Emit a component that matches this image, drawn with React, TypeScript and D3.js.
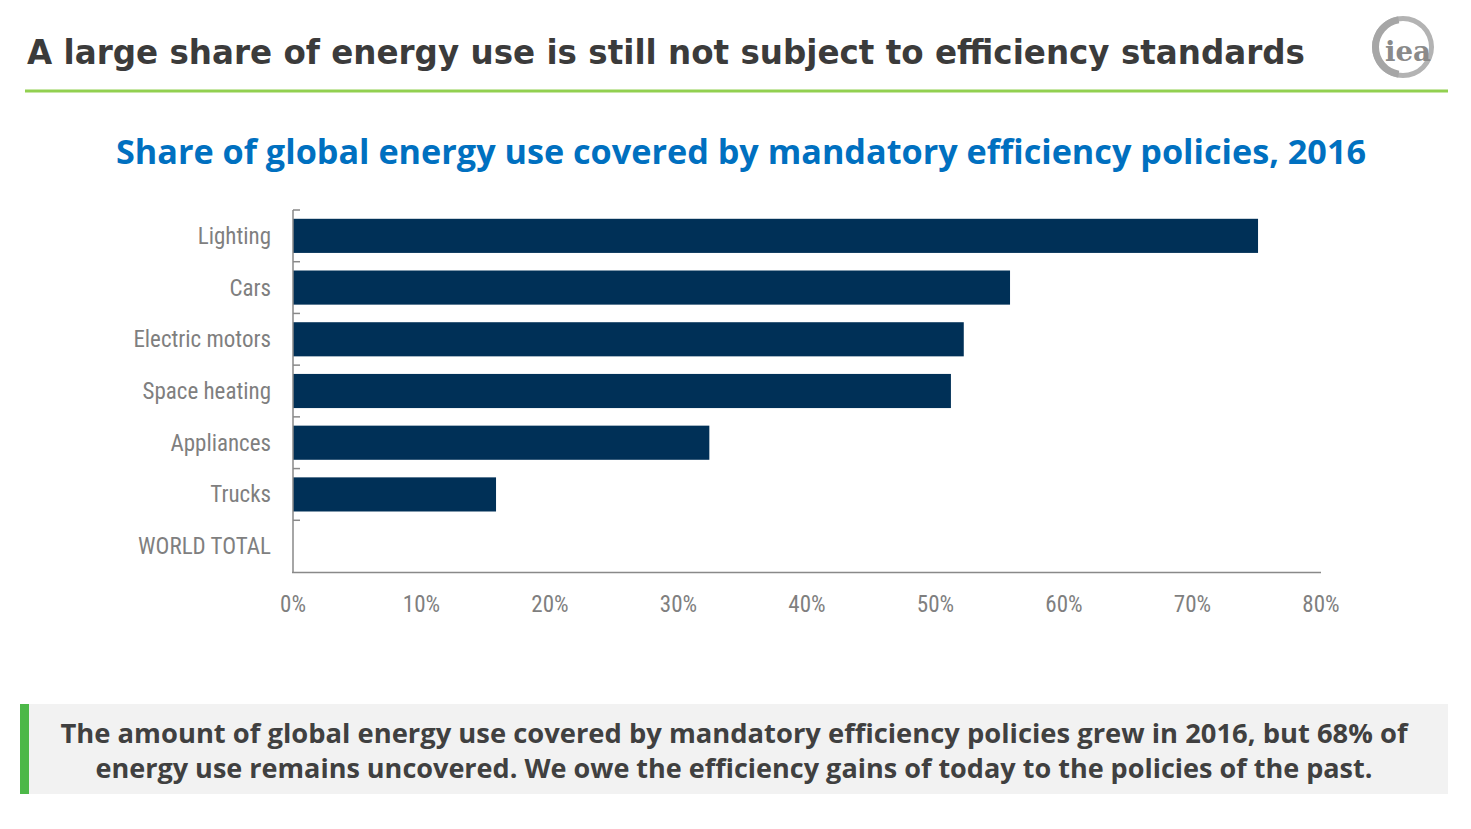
import React from "react";
import * as d3 from "d3";

const categories = ["Lighting", "Cars", "Electric motors", "Space heating", "Appliances", "Trucks", "WORLD TOTAL"];
const shares: (number | null)[] = [75.1, 55.8, 52.2, 51.2, 32.4, 15.8, null];
const xTicks = [0, 10, 20, 30, 40, 50, 60, 70, 80];

const headline = "A large share of energy use is still not subject to efficiency standards";
const chartTitle = "Share of global energy use covered by mandatory efficiency policies, 2016";
const noteLines = [
  "The amount of global energy use covered by mandatory efficiency policies grew in 2016, but 68% of",
  "energy use remains uncovered. We owe the efficiency gains of today to the policies of the past.",
];

export default function App() {
  const W = 1471, H = 829;
  const x = d3.scaleLinear().domain([0, 80]).range([293, 1321]);
  const y = d3.scaleBand<string>().domain(categories).range([210, 572]).paddingInner(0.34).paddingOuter(0.17);
  const step = y.step();
  const boundaries = categories.map((_, i) => 210 + i * step);
  const labelFont = "'Liberation Sans Narrow', 'Arial Narrow', 'Roboto Condensed', sans-serif";
  const gray = "#7f7f7f";
  const axisColor = "#898989";

  // logo arc (thicker crescent on left)
  const ringArc = d3.arc()({ innerRadius: 26, outerRadius: 31, startAngle: 0, endAngle: 2 * Math.PI }) as string;
  const crescent = d3.arc()({ innerRadius: 24, outerRadius: 31, startAngle: Math.PI * 1.05, endAngle: Math.PI * 1.95 }) as string;

  return (
    <svg width={W} height={H} style={{ position: "absolute", left: 0, top: 0, background: "#fff" }}>
      {/* headline */}
      <text x={27} y={64} fontFamily="'DejaVu Sans', sans-serif" fontWeight="bold" fontSize={34} fill="#3b3b3b"
        textLength={1278} lengthAdjust="spacingAndGlyphs">{headline}</text>
      <line x1={25} x2={1448} y1={91} y2={91} stroke="#92d050" strokeWidth={3} />

      {/* logo */}
      <g transform="translate(1403,47)">
        <path d={ringArc} fill="#b3b3b3" />
        <path d={crescent} fill="#a6a6a6" />
        <text x={5} y={14} textAnchor="middle" fontFamily="'DejaVu Serif', serif" fontWeight="bold" fontSize={27} fill="#8a8a8a"
          textLength={46} lengthAdjust="spacingAndGlyphs">iea</text>
      </g>

      {/* chart title */}
      <text x={741} y={164} textAnchor="middle" fontFamily="'Open Sans', sans-serif" fontWeight="bold" fontSize={34} fill="#0070c0"
        textLength={1250} lengthAdjust="spacingAndGlyphs">{chartTitle}</text>

      {/* bars */}
      {categories.map((c, i) => {
        const v = shares[i];
        if (v == null) return null;
        return <rect key={c} x={x(0)} y={y(c)} width={x(v) - x(0)} height={y.bandwidth()} fill="#003057" />;
      })}

      {/* axes */}
      <line x1={293} x2={293} y1={210} y2={572.5} stroke={axisColor} strokeWidth={1.5} />
      <line x1={292} x2={1321} y1={572.5} y2={572.5} stroke={axisColor} strokeWidth={1.5} />
      {boundaries.map((b, i) => (
        <line key={i} x1={293} x2={300} y1={b} y2={b} stroke={axisColor} strokeWidth={1.5} />
      ))}

      {/* category labels */}
      {categories.map((c) => (
        <text key={c} x={271} y={(y(c) as number) + y.bandwidth() / 2} dy="0.35em" textAnchor="end"
          fontFamily={labelFont} fontSize={23} fill={gray}>{c}</text>
      ))}

      {/* x tick labels */}
      {xTicks.map((t) => (
        <text key={t} x={x(t)} y={604} dy="0.35em" textAnchor="middle" fontFamily={labelFont} fontSize={23} fill={gray}>{t}%</text>
      ))}

      {/* bottom note */}
      <rect x={20} y={704} width={1428} height={90} fill="#f2f2f2" />
      <rect x={20} y={704} width={9} height={90} fill="#4cb848" />
      {noteLines.map((l, i) => (
        <text key={i} x={734} y={743 + i * 35} textAnchor="middle" fontFamily="'Open Sans', sans-serif" fontWeight="bold"
          fontSize={27} fill="#404040" textLength={i === 0 ? 1347 : 1277} lengthAdjust="spacingAndGlyphs">{l}</text>
      ))}
    </svg>
  );
}
